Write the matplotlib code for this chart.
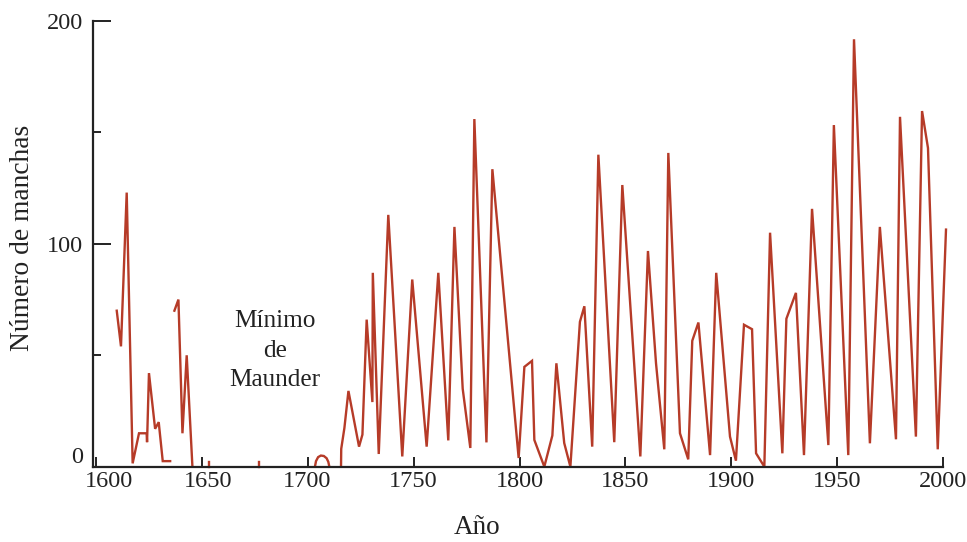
import numpy as np
import matplotlib
matplotlib.use("Agg")
import matplotlib.pyplot as plt
from matplotlib.transforms import ScaledTranslation

plt.rcParams['font.family'] = ['Liberation Serif', 'DejaVu Serif']

# ---- data ----
seg_a_years = [1610.0, 1612.0, 1614.7, 1617.5, 1620.5, 1624.1, 1624.3, 1625.2, 1628.1, 1629.8, 1631.7, 1635.2]
seg_a_vals = [70, 54, 123, 1.5, 15, 15, 11, 42, 17, 20, 2.5, 2.5]
seg_b_years = [1637.2, 1639.1, 1641.0, 1643.0, 1645.7]
seg_b_vals = [70, 75, 15, 50, 0]
seg_c_years = [1653.3, 1653.3]
seg_c_vals = [2, 0]
seg_d_years = [1677.1, 1677.1]
seg_d_vals = [2.2, 0]
seg_e_years = [1703.5, 1704.0, 1705.0, 1706.3, 1707.7, 1709.0, 1709.8, 1710.3]
seg_e_vals = [0, 2.5, 4.3, 5, 4.8, 3.8, 2.2, 0]
seg_f_years = [1715.8, 1715.9, 1717.4, 1719.3, 1724.3, 1725.9, 1727.9, 1730.6, 1730.8, 1733.6,
               1738.1, 1744.7, 1749.4, 1756.2, 1761.7, 1766.4, 1769.3, 1773.2, 1776.8, 1778.7,
               1784.4, 1787.2, 1799.6, 1802.3, 1805.9, 1807.0, 1811.7, 1815.5, 1817.4, 1821.1,
               1824.0, 1828.5, 1830.6, 1834.3, 1837.2, 1844.7, 1848.5, 1857.0, 1860.6, 1864.4,
               1868.3, 1870.2, 1875.7, 1879.6, 1881.5, 1884.4, 1889.9, 1892.8, 1899.3, 1902.1,
               1905.9, 1909.7, 1911.6, 1915.5, 1918.2, 1924.0, 1925.9, 1930.4, 1934.2, 1938.0,
               1945.7, 1948.3, 1955.1, 1957.8, 1965.3, 1970.0, 1977.6, 1979.5, 1987.0, 1989.9,
               1992.7, 1997.3, 2001.2]
seg_f_vals = [0, 8, 17.4, 34, 9, 14.4, 66, 29, 87, 5.7,
              113, 4.6, 84, 9, 87, 11.8, 107.6, 35, 8.4, 156,
              10.9, 133.5, 3.9, 44.8, 47.5, 12, 0, 14, 46.4, 10.6,
              0, 65, 72, 9, 140, 11, 126.4, 4.6, 96.8, 46.4,
              7.8, 140.8, 15, 3.3, 56.5, 64.7, 5.2, 87, 13.5, 2.7,
              63.7, 61.7, 6, 0, 105, 6, 66.4, 78, 5.2, 115.7,
              9.7, 153.3, 5.2, 191.8, 10.5, 107.6, 12.3, 157, 13.5, 159.6,
              143, 7.8, 106.4]

segments = [(seg_a_years, seg_a_vals), (seg_b_years, seg_b_vals), (seg_c_years, seg_c_vals),
            (seg_d_years, seg_d_vals), (seg_e_years, seg_e_vals), (seg_f_years, seg_f_vals)]

x_ticks = [1600, 1650, 1700, 1750, 1800, 1850, 1900, 1950, 2000]
y_major = [0, 100, 200]
y_minor = [50, 150]

line_color = '#b63b28'
axis_color = '#222222'

fig = plt.figure(figsize=(9.67, 5.42), dpi=100)
ax = fig.add_axes([93 / 967, 75.3 / 542, 854.7 / 967, 445.7 / 542])

for yrs, vals in segments:
    ax.plot(yrs, vals, color=line_color, lw=1.7, clip_on=False, solid_joinstyle='miter')

ax.set_xlim(1598.8, 2002)
ax.set_ylim(0, 200)

for s in ['top', 'right']:
    ax.spines[s].set_visible(False)
for s in ['left', 'bottom']:
    ax.spines[s].set_color(axis_color)
    ax.spines[s].set_linewidth(1.6)
ax.spines['bottom'].set_bounds(1598.8, 2000)
ax.spines['left'].set_bounds(0, 200)

ax.set_xticks(x_ticks)
ax.set_xticklabels([str(t) for t in x_ticks])
ax.set_yticks(y_major)
ax.set_yticklabels([str(t) for t in y_major])
ax.set_yticks(y_minor, minor=True)

ax.tick_params(axis='x', direction='in', length=7.5, width=1.4, color=axis_color,
               labelsize=17.5, labelcolor=axis_color, pad=3)
ax.tick_params(axis='y', which='major', direction='in', length=13, width=1.4, color=axis_color,
               labelsize=17.5, labelcolor=axis_color, pad=7)
ax.tick_params(axis='y', which='minor', direction='in', length=5.5, width=1.4, color=axis_color)

# small label offsets as in the reference
xt = ax.xaxis.get_major_ticks()
xt[0].label1.set_transform(xt[0].label1.get_transform() + ScaledTranslation(0.135, 0, fig.dpi_scale_trans))
xt[1].label1.set_transform(xt[1].label1.get_transform() + ScaledTranslation(0.07, 0, fig.dpi_scale_trans))
yt = ax.yaxis.get_major_ticks()
yt[0].label1.set_transform(yt[0].label1.get_transform() + ScaledTranslation(0, 0.115, fig.dpi_scale_trans))

fig.text(23 / 967, 1 - 238 / 542, 'Número de manchas', rotation=90, ha='center', va='center',
         fontsize=19.8, color=axis_color)
fig.text(477 / 967, 1 - 527 / 542, 'Año', ha='center', va='center', fontsize=19.5, color=axis_color)

ax.text(1684.7, 52, 'Mínimo\nde\nMaunder', ha='center', va='center', fontsize=18.2,
        color=axis_color, linespacing=1.45)

fig.savefig('out.png', dpi=100)
